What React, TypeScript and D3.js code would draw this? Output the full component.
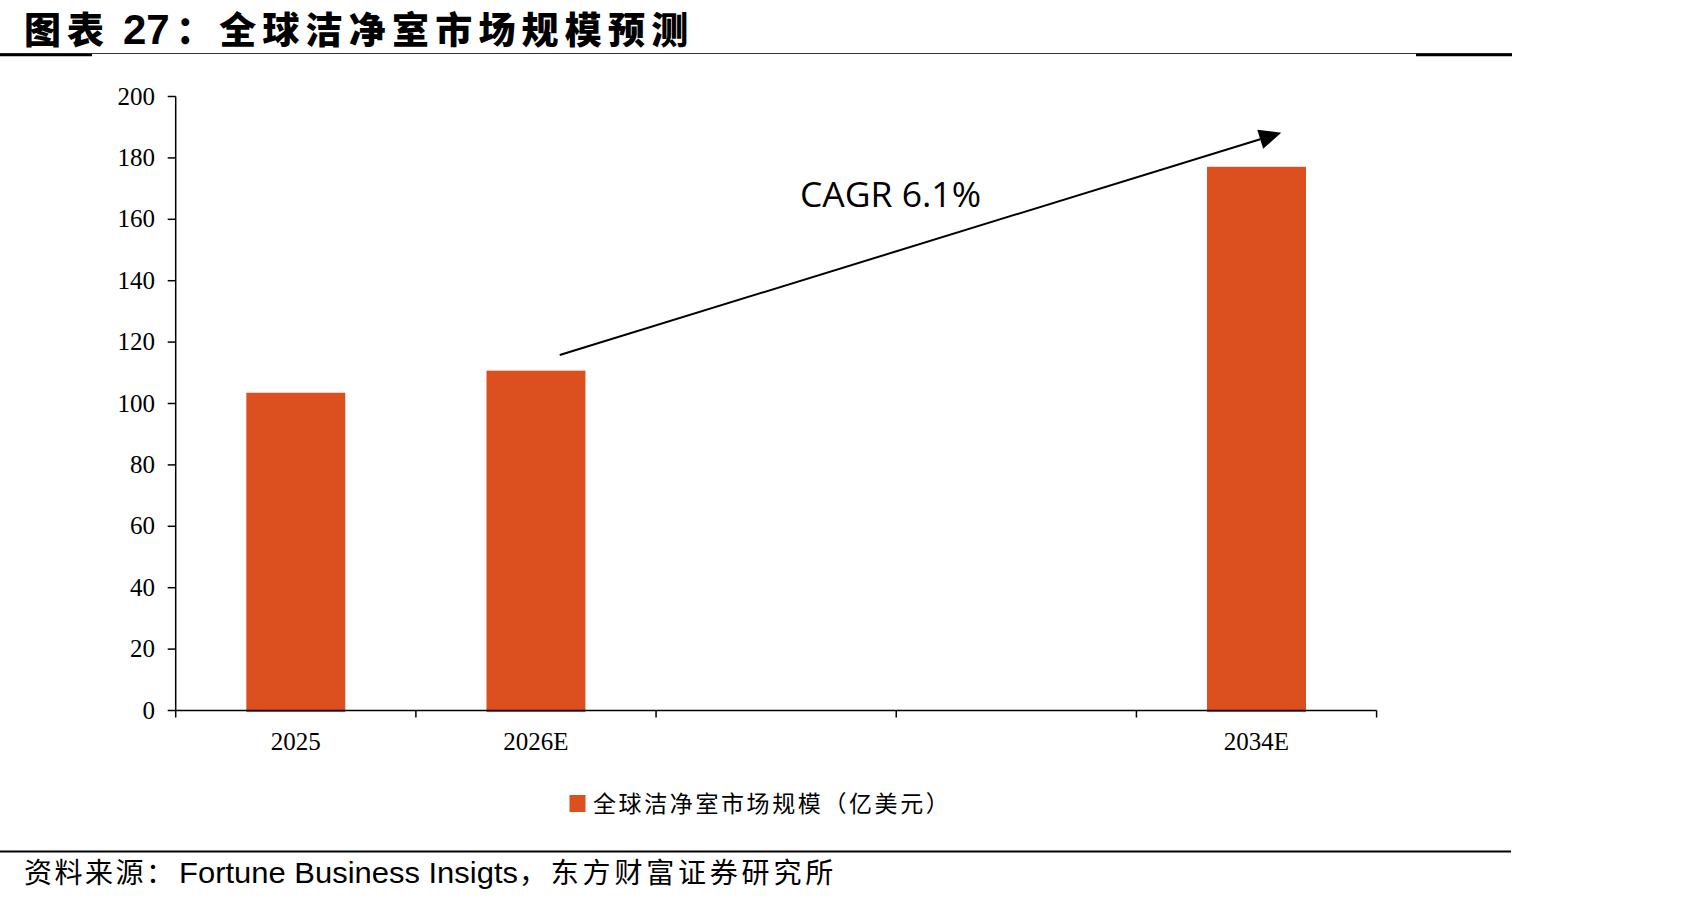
import React from "react";
import * as d3 from "d3";

// Chart data
const categories: string[] = ["2025", "2026E", "", "", "2034E"];
const marketSize: (number | null)[] = [103.5, 110.7, null, null, 177.1];
const yTicks: number[] = [0, 20, 40, 60, 80, 100, 120, 140, 160, 180, 200];
const seriesName = "全球洁净室市场规模（亿美元）";
const cagrLabel = "CAGR 6.1%";
// Arrow anchors: category index, fraction across the band, value level
const cagrFrom = { cat: 1, frac: 0.74, value: 115.8 };
const cagrTo = { cat: 4, frac: 0.75, value: 188.2 };

const W = 1701;
const H = 905;
const plot = { left: 175.7, right: 1376.6, top: 96.5, bottom: 710.5 };
const BAR = "#DC4F1F";
const CJK = "'Noto Sans CJK SC', 'Noto Sans', sans-serif";
const SERIF = "'Liberation Serif', 'Times New Roman', serif";
const SANS = "'Liberation Sans', Arial, sans-serif";

export default function App() {
  const x = d3
    .scaleBand<number>()
    .domain(d3.range(categories.length))
    .range([plot.left, plot.right])
    .paddingInner(0.588)
    .paddingOuter(0.294);
  const y = d3.scaleLinear().domain([0, 200]).range([plot.bottom, plot.top]);
  const step = x.step();
  const bw = x.bandwidth();
  const boundaries = d3.range(categories.length + 1).map((i) => plot.left + i * step);

  // arrow geometry
  const x1 = (x(cagrFrom.cat) as number) + cagrFrom.frac * bw;
  const y1 = y(cagrFrom.value);
  const x2 = (x(cagrTo.cat) as number) + cagrTo.frac * bw;
  const y2 = y(cagrTo.value);
  const ang = Math.atan2(y2 - y1, x2 - x1);
  const headLen = 22;
  const headHalf = 10;
  const bx = x2 - headLen * Math.cos(ang);
  const by = y2 - headLen * Math.sin(ang);
  const px = -Math.sin(ang);
  const py = Math.cos(ang);
  const head = [
    [x2, y2],
    [bx + headHalf * px, by + headHalf * py],
    [bx - headHalf * px, by - headHalf * py],
  ]
    .map((p) => p.join(","))
    .join(" ");

  return (
    <svg
      width={W}
      height={H}
      viewBox={`0 0 ${W} ${H}`}
      style={{ position: "absolute", left: 0, top: 0, display: "block", background: "#fff" }}
    >
      {/* title */}
      <text x={24} y={44} fontFamily={CJK} fontWeight={900} fontSize={37} letterSpacing={6} fill="#000">
        图表
      </text>
      <text x={123} y={44} fontFamily={SANS} fontWeight={700} fontSize={42} fill="#000">
        27
      </text>
      <text x={176} y={44} fontFamily={CJK} fontWeight={900} fontSize={37} letterSpacing={6.2} fill="#000">
        ：全球洁净室市场规模预测
      </text>

      {/* header rule */}
      <line x1={0} x2={1512} y1={53.5} y2={53.5} stroke="#333" strokeWidth={1} />
      <line x1={0} x2={92} y1={55} y2={55} stroke="#000" strokeWidth={2.5} />
      <line x1={1416} x2={1512} y1={55} y2={55} stroke="#000" strokeWidth={2.5} />

      {/* bars */}
      {marketSize.map((v, i) =>
        v == null ? null : (
          <rect
            key={i}
            x={x(i)}
            y={y(v)}
            width={bw}
            height={y(0) - y(v) + 1.5}
            fill={BAR}
          />
        )
      )}

      {/* y axis */}
      <line x1={plot.left} x2={plot.left} y1={plot.top} y2={plot.bottom} stroke="#000" strokeWidth={1.5} />
      {yTicks.map((t) => (
        <g key={t}>
          <line x1={plot.left - 8} x2={plot.left} y1={y(t)} y2={y(t)} stroke="#000" strokeWidth={1.5} />
          <text x={155} y={y(t) + 8} textAnchor="end" fontFamily={SERIF} fontSize={25} fill="#000">
            {t}
          </text>
        </g>
      ))}

      {/* x axis */}
      <line x1={plot.left} x2={plot.right} y1={plot.bottom} y2={plot.bottom} stroke="#000" strokeWidth={1.5} />
      {boundaries.map((bx0, i) => (
        <line key={i} x1={bx0} x2={bx0} y1={plot.bottom} y2={plot.bottom + 7} stroke="#000" strokeWidth={1.5} />
      ))}
      {categories.map((c, i) =>
        c ? (
          <text
            key={i}
            x={(x(i) as number) + bw / 2}
            y={750}
            textAnchor="middle"
            fontFamily={SERIF}
            fontSize={25}
            fill="#000"
          >
            {c}
          </text>
        ) : null
      )}

      {/* CAGR annotation */}
      <line x1={x1} y1={y1} x2={bx} y2={by} stroke="#000" strokeWidth={2} />
      <polygon points={head} fill="#000" />
      <text x={800} y={207} fontFamily="'Open Sans', sans-serif" fontSize={35.5} fill="#000">
        {cagrLabel}
      </text>

      {/* legend */}
      <rect x={569.5} y={795} width={16} height={17} fill={BAR} />
      <text x={593} y={812} fontFamily={CJK} fontSize={23} letterSpacing={2.6} fill="#000">
        {seriesName}
      </text>

      {/* footer rule and source */}
      <line x1={0} x2={1511} y1={851.5} y2={851.5} stroke="#000" strokeWidth={2} />
      <text y={883} fontFamily={CJK} fontSize={28} fill="#000">
        <tspan x={24} letterSpacing={2.5}>
          资料来源：
        </tspan>
        <tspan x={179} fontFamily={SANS} fontSize={29} textLength={339} lengthAdjust="spacingAndGlyphs">
          Fortune Business Insigts
        </tspan>
        <tspan x={519} letterSpacing={3.8}>
          ，东方财富证券研究所
        </tspan>
      </text>
    </svg>
  );
}
